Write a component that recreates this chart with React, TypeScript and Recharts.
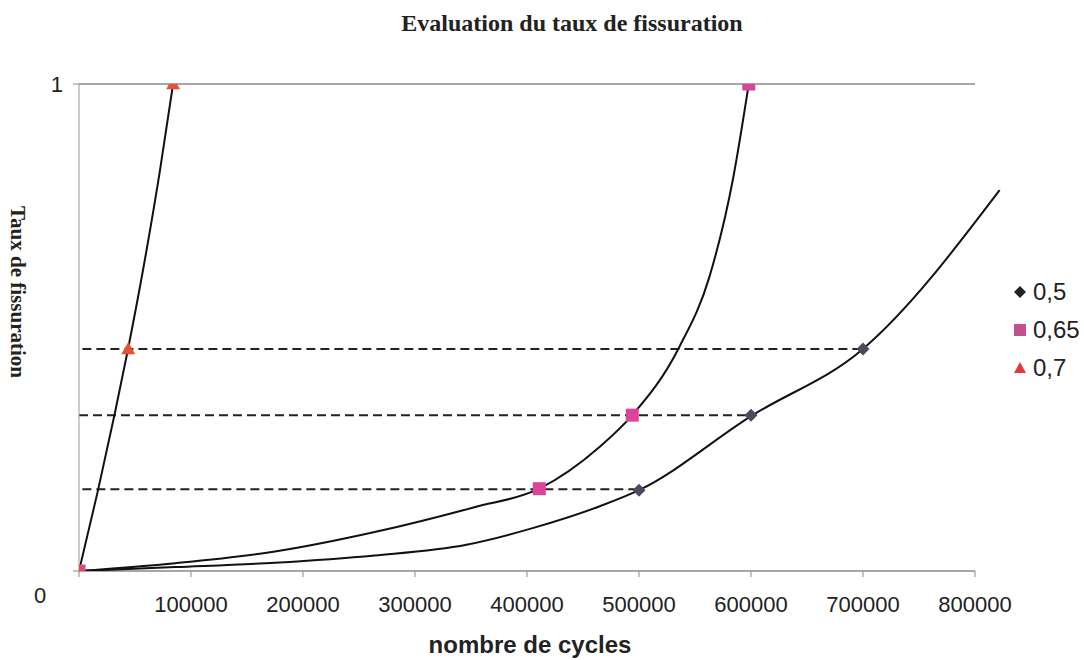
import React from 'react';
import { ComposedChart, Line, Scatter, XAxis, YAxis, ReferenceLine } from 'recharts';

// ---- data ----
const xTicks = [0, 100000, 200000, 300000, 400000, 500000, 600000, 700000, 800000];
const yTicks = [0, 1];

const seriesNames = ['0,5', '0,65', '0,7'];

// measured points
const cycles05 = [0, 500000, 600000, 700000];
const taux05 = [0, 0.166, 0.32, 0.456];
const cycles065 = [0, 411000, 494000, 598000];
const taux065 = [0, 0.169, 0.32, 1];
const cycles07 = [0, 44000, 84000];
const taux07 = [0, 0.456, 1];

// trend curves
const trendCycles05 = [0, 86000, 175000, 264000, 346000, 405000, 465000, 500000, 600000, 700000, 822000];
const trendTaux05 = [0, 0.008, 0.017, 0.032, 0.054, 0.088, 0.133, 0.166, 0.318, 0.456, 0.782];
const trendCycles065 = [0, 86000, 175000, 264000, 353000, 411000, 465000, 494000, 536000, 563000, 584000, 598000];
const trendTaux065 = [0, 0.016, 0.04, 0.08, 0.131, 0.169, 0.255, 0.32, 0.46, 0.605, 0.806, 1];
const trendCycles07 = [0, 16800, 32000, 43800, 57000, 72200, 84000];
const trendTaux07 = [0, 0.164, 0.324, 0.456, 0.616, 0.821, 1];

// dashed reading lines
const dashLevels = [0.456, 0.32, 0.168];
const dashStarts = [3000, 0, 3000];
const dashEnds = [700000, 600000, 500000];

const zip = (xs: number[], ys: number[]) => xs.map((x, i) => ({ x, y: ys[i] }));

const pts05 = zip(cycles05, taux05);
const pts065 = zip(cycles065, taux065);
const pts07 = zip(cycles07, taux07);
const tr05 = zip(trendCycles05, trendTaux05);
const tr065 = zip(trendCycles065, trendTaux065);
const tr07 = zip(trendCycles07, trendTaux07);
const dashData = dashLevels.map((lv, i) => [
  { x: dashStarts[i], y: lv },
  { x: dashEnds[i], y: lv },
]);

const COL_DIAMOND = '#4a4a60';
const COL_SQUARE = '#dc449c';
const COL_TRI = '#e8502f';

const Diamond = (p: any) => {
  const { cx, cy } = p;
  const r = 6.5;
  return <path d={`M${cx},${cy - r}L${cx + r},${cy}L${cx},${cy + r}L${cx - r},${cy}Z`} fill={COL_DIAMOND} />;
};
const Square = (p: any) => {
  const { cx, cy } = p;
  const r = 6.5;
  return <rect x={cx - r} y={cy - r} width={2 * r} height={2 * r} fill={COL_SQUARE} />;
};
const Triangle = (p: any) => {
  const { cx, cy } = p;
  const r = 7;
  return <path d={`M${cx},${cy - r}L${cx + r},${cy + r * 0.75}L${cx - r},${cy + r * 0.75}Z`} fill={COL_TRI} />;
};

const XTick = (props: any) => {
  const { x, y, payload } = props;
  if (payload.value === 0) {
    return (
      <text x={x - 39} y={y + 24} textAnchor="middle" fontSize={22} fill="#222" fontFamily="Liberation Sans, Arial, sans-serif">
        0
      </text>
    );
  }
  return (
    <text x={x} y={y + 33} textAnchor="middle" fontSize={22} fill="#222" fontFamily="Liberation Sans, Arial, sans-serif">
      {payload.value}
    </text>
  );
};

const YTick = (props: any) => {
  const { x, y, payload } = props;
  if (payload.value !== 1) return null;
  return (
    <text x={x - 8} y={y + 8} textAnchor="end" fontSize={22} fill="#222" fontFamily="Liberation Sans, Arial, sans-serif">
      {payload.value}
    </text>
  );
};

const legendColors = ['#222', '#c0508e', '#e03a3a'];

export default function App() {
  return (
    <div style={{ position: 'fixed', left: 0, top: 0, width: 1084, height: 660, background: '#fff' }}>
      <div
        style={{
          position: 'absolute', left: 372, width: 400, top: 10, textAlign: 'center',
          fontFamily: 'Liberation Serif, Times New Roman, serif', fontWeight: 'bold', fontSize: 24, color: '#222',
        }}
      >
        Evaluation du taux de fissuration
      </div>
      <div
        style={{
          position: 'absolute', left: 18, top: 292, width: 0, height: 0,
        }}
      >
        <div
          style={{
            position: 'absolute', left: -150, top: -13, width: 300, textAlign: 'center',
            transform: 'rotate(90deg)', transformOrigin: '150px 13px',
            fontFamily: 'Liberation Serif, Times New Roman, serif', fontWeight: 'bold', fontSize: 21, color: '#222', lineHeight: '26px',
          }}
        >
          Taux de fissuration
        </div>
      </div>
      <div
        style={{
          position: 'absolute', left: 330, width: 400, top: 631, textAlign: 'center',
          fontFamily: 'Liberation Sans, Arial, sans-serif', fontWeight: 'bold', fontSize: 24, color: '#222',
        }}
      >
        nombre de cycles
      </div>
      <div style={{ position: 'absolute', left: 1010, top: 273, fontFamily: 'Liberation Sans, Arial, sans-serif', fontSize: 24, color: '#222' }}>
        {seriesNames.map((n, i) => (
          <div key={n} style={{ display: 'flex', alignItems: 'center', height: 38 }}>
            <svg width={20} height={20} style={{ marginRight: 3 }}>
              {i === 0 && <path d="M10,4L16,10L10,16L4,10Z" fill={legendColors[0]} />}
              {i === 1 && <rect x={4} y={4} width={12} height={12} fill={legendColors[1]} />}
              {i === 2 && <path d="M10,4L16,15L4,15Z" fill={legendColors[2]} />}
            </svg>
            <span>{n}</span>
          </div>
        ))}
      </div>
      <ComposedChart width={1084} height={660} margin={{ top: 84, right: 81, bottom: 29, left: 19 }}>
        <XAxis
          type="number"
          dataKey="x"
          domain={[0, 825000]}
          ticks={xTicks}
          interval={0}
          axisLine={false}
          tickLine={{ stroke: '#888' }}
          tickSize={6}
          height={60}
          tick={<XTick />}
          allowDataOverflow
        />
        <YAxis
          type="number"
          dataKey="y"
          domain={[0, 1]}
          ticks={yTicks}
          interval={0}
          axisLine={{ stroke: '#999' }}
          tickLine={{ stroke: '#888' }}
          tickSize={6}
          width={60}
          tick={<YTick />}
          allowDataOverflow
        />
        <ReferenceLine segment={[{ x: 0, y: 1 }, { x: 800000, y: 1 }]} stroke="#888" strokeWidth={1.5} ifOverflow="visible" />
        <ReferenceLine segment={[{ x: 0, y: 0 }, { x: 800000, y: 0 }]} stroke="#888" strokeWidth={1.5} ifOverflow="visible" />
        {dashData.map((d, i) => (
          <Line key={'dash' + i} data={d} dataKey="y" type="linear" stroke="#222" strokeWidth={2} strokeDasharray="9 5" dot={false} isAnimationActive={false} legendType="none" />
        ))}
        <Line data={tr05} dataKey="y" type="monotone" stroke="#111" strokeWidth={2} dot={false} isAnimationActive={false} />
        <Line data={tr065} dataKey="y" type="monotone" stroke="#111" strokeWidth={2} dot={false} isAnimationActive={false} />
        <Line data={tr07} dataKey="y" type="monotone" stroke="#111" strokeWidth={2} dot={false} isAnimationActive={false} />
        <Scatter name={seriesNames[0]} data={pts05} dataKey="y" shape={<Diamond />} isAnimationActive={false} />
        <Scatter name={seriesNames[1]} data={pts065} dataKey="y" shape={<Square />} isAnimationActive={false} />
        <Scatter name={seriesNames[2]} data={pts07} dataKey="y" shape={<Triangle />} isAnimationActive={false} />
      </ComposedChart>
    </div>
  );
}
